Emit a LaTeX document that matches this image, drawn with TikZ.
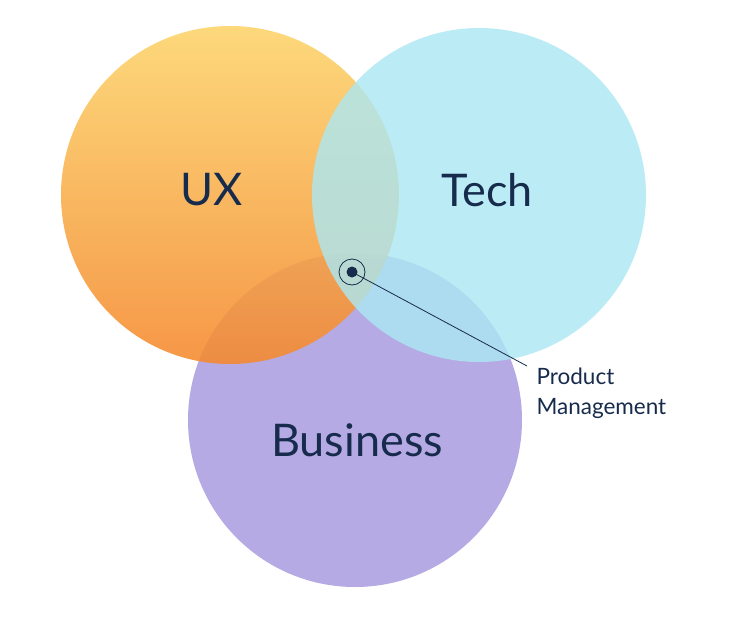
\documentclass[tikz,border=0pt]{standalone}
\usepackage{fontspec}
\setmainfont{Lato}
\definecolor{navy}{HTML}{172B4D}
\definecolor{uxA}{HTML}{FDD46A}
\definecolor{uxB}{HTML}{F5892D}
\definecolor{techc}{HTML}{ABE8F3}
\definecolor{bizc}{HTML}{B3A6E3}
\begin{document}
\begin{tikzpicture}[x=1pt,y=-1pt,
  lbl/.style={text=navy,font=\fontsize{45}{52}\selectfont},
  small/.style={text=navy,font=\fontsize{22.5}{30}\selectfont,align=left,anchor=west}]
\useasboundingbox[fill=white] (0,0) rectangle (741,621);
\fill[bizc,opacity=0.95] (355,420) circle (167);
\shade[top color=uxA,bottom color=uxB,opacity=0.88] (230,195) circle (169);
\fill[techc,opacity=0.8] (479,195) circle (167);
\node[lbl] (ux) at (212,190) {UX};
\node[lbl] (tech) at (487,190) {Tech};
\node[lbl] (biz) at (357,440) {Business};
\node[circle,draw=navy,line width=0.8pt,minimum size=26pt,inner sep=0] (ring) at (352,272) {};
\fill[navy] (ring.center) circle (5.5);
\node[small] (pm) at (533,393) {Product\\Management};
\coordinate (end) at (527,366);
\draw[navy,line width=0.8pt] (ring.center) -- (end);
\end{tikzpicture}
\end{document}
